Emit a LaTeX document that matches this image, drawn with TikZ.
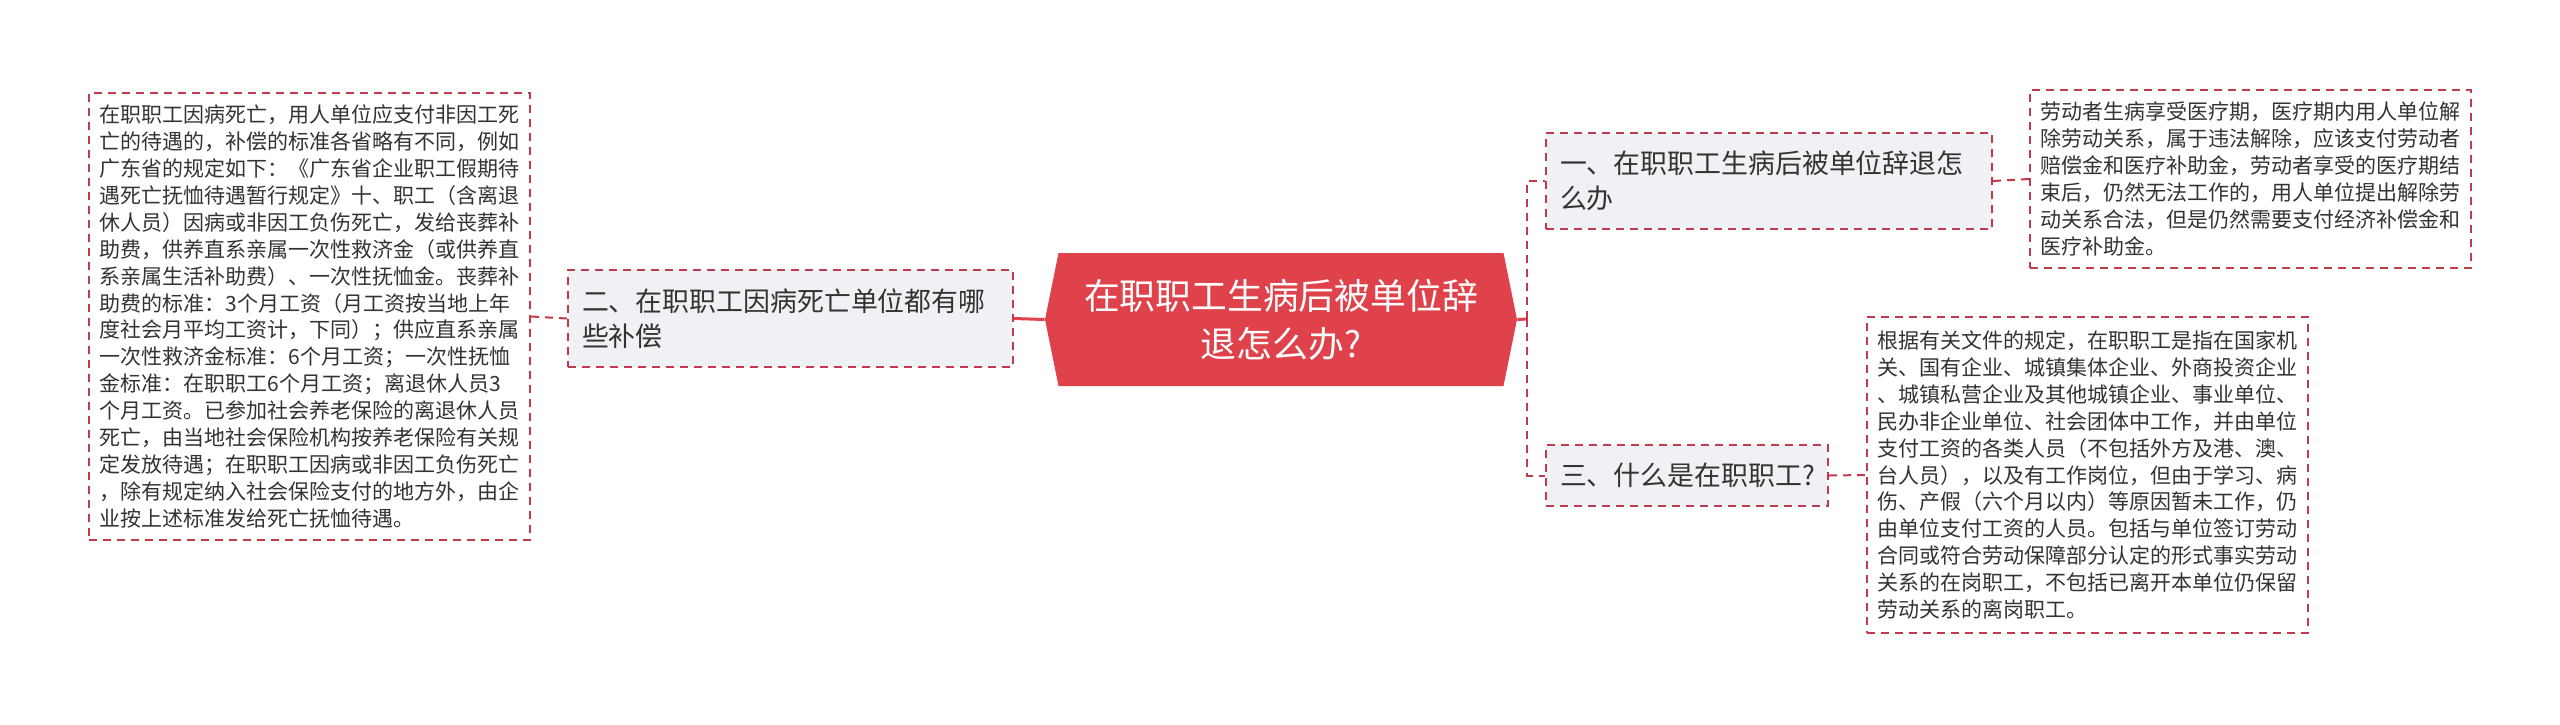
\documentclass[tikz,border=0pt]{standalone}
\usepackage{fontspec}
\setmainfont{Noto Sans CJK SC}
\usepackage{tikz}
\usetikzlibrary{shapes.symbols}
\definecolor{rootred}{HTML}{E0424B}
\definecolor{linered}{HTML}{C23A4B}
\definecolor{branchgray}{HTML}{EFF1F4}
\definecolor{inkgray}{HTML}{333333}
\tikzstyle{root} = [signal, signal to=west and east, signal pointer angle=157, fill=rootred, text=white, align=center, minimum width=236pt, minimum height=66.5pt, inner sep=0pt, font=\fontsize{17.9pt}{24pt}\selectfont]
\tikzstyle{branch} = [rectangle, draw=linered, dash pattern=on 4pt off 3pt, line width=1pt, fill=branchgray, text=inkgray, align=left, inner xsep=7pt, inner ysep=0pt, font=\fontsize{13.45pt}{17.5pt}\selectfont]
\tikzstyle{leaf} = [rectangle, draw=linered, dash pattern=on 4pt off 3pt, line width=1pt, fill=white, text=inkgray, align=left, inner xsep=5.25pt, inner ysep=0pt, text width=210pt, font=\fontsize{10.5pt}{13.45pt}\selectfont]
\tikzstyle{trunk} = [line width=1.5pt, draw=rootred]
\tikzstyle{twig} = [line width=1pt, draw=linered, dash pattern=on 4pt off 3pt]

\begin{document}
\begin{tikzpicture}[x=0.5pt, y=-0.5pt]
\useasboundingbox[fill=white] (0,0) rectangle (2560,724);

\node(center)[root] at (1281,319.5) {在职职工生病后被单位辞\\退怎么办?};
\node(part2)[branch, text width=208.5pt, minimum height=48.5pt] at (790.5,318.5) {二、在职职工因病死亡单位都有哪\\些补偿};
\node(part1)[branch, text width=209pt, minimum height=48pt] at (1769,181) {一、在职职工生病后被单位辞退怎\\么办};
\node(part3)[branch, text width=127pt, minimum height=30.5pt] at (1687,475.5) {三、什么是在职职工?};

\node(text2)[leaf, minimum height=223.5pt] at (309.5,316.5) {在职职工因病死亡，用人单位应支付非因工死\\亡的待遇的，补偿的标准各省略有不同，例如\\广东省的规定如下：《广东省企业职工假期待\\遇死亡抚恤待遇暂行规定》十、职工（含离退\\休人员）因病或非因工负伤死亡，发给丧葬补\\助费，供养直系亲属一次性救济金（或供养直\\系亲属生活补助费）、一次性抚恤金。丧葬补\\助费的标准：3个月工资（月工资按当地上年\\度社会月平均工资计，下同）；供应直系亲属\\一次性救济金标准：6个月工资；一次性抚恤\\金标准：在职职工6个月工资；离退休人员3\\个月工资。已参加社会养老保险的离退休人员\\死亡，由当地社会保险机构按养老保险有关规\\定发放待遇；在职职工因病或非因工负伤死亡\\，除有规定纳入社会保险支付的地方外，由企\\业按上述标准发给死亡抚恤待遇。};
\node(text1)[leaf, minimum height=89pt] at (2250.5,179) {劳动者生病享受医疗期，医疗期内用人单位解\\除劳动关系，属于违法解除，应该支付劳动者\\赔偿金和医疗补助金，劳动者享受的医疗期结\\束后，仍然无法工作的，用人单位提出解除劳\\动关系合法，但是仍然需要支付经济补偿金和\\医疗补助金。};
\node(text3)[leaf, minimum height=158pt] at (2087,475) {根据有关文件的规定，在职职工是指在国家机\\关、国有企业、城镇集体企业、外商投资企业\\、城镇私营企业及其他城镇企业、事业单位、\\民办非企业单位、社会团体中工作，并由单位\\支付工资的各类人员（不包括外方及港、澳、\\台人员），以及有工作岗位，但由于学习、病\\伤、产假（六个月以内）等原因暂未工作，仍\\由单位支付工资的人员。包括与单位签订劳动\\合同或符合劳动保障部分认定的形式事实劳动\\关系的在岗职工，不包括已离开本单位仍保留\\劳动关系的离岗职工。};

\coordinate(fork) at (1527,319);

\draw[trunk] (center.west) -- (part2.east);
\draw[trunk] (center.east) -- (fork);
\draw[twig] (fork) |- (part1.west);
\draw[twig] (fork) |- (part3.west);
\draw[twig] (part2.west) -- (text2.east);
\draw[twig] (part1.east) -- (text1.west);
\draw[twig] (part3.east) -- (text3.west);
\end{tikzpicture}
\end{document}
